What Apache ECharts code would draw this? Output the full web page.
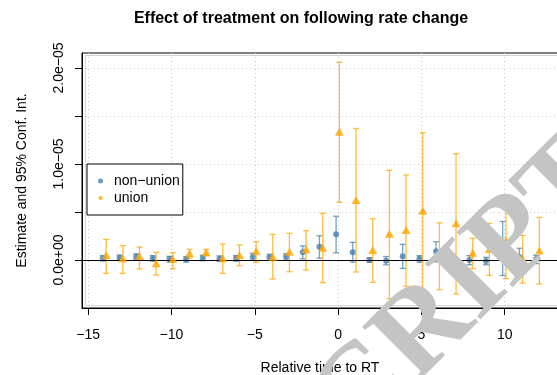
<!DOCTYPE html>
<html><head><meta charset="utf-8">
<script src="https://cdn.jsdelivr.net/npm/echarts@6/dist/echarts.min.js"></script>
<style>html,body{margin:0;padding:0;background:#fff}#c{width:557px;height:375px}</style>
</head><body><div id="c"></div>
<script>
// values in units of 1e-6
const times = [-14,-13,-12,-11,-10,-9,-8,-7,-6,-5,-4,-3,-2,-1,0,1,2,3,4,5,6,7,8,9,10,11,12];
const nonUnionEst = [0.18,0.24,0.35,0.17,0.10,0.07,0.21,0.14,0.17,0.35,0.28,0.33,0.80,1.39,2.67,0.80,0.00,-0.08,0.40,0.12,0.90,0.10,0.00,-0.10,1.22,0.32,0.07];
const nonUnionLo  = [-0.10,-0.05,0.05,-0.12,-0.20,-0.22,-0.08,-0.15,-0.13,0.00,-0.05,0.00,0.13,0.19,0.76,-0.22,-0.24,-0.50,-0.88,-0.24,-0.19,-0.42,-0.49,-0.49,-1.62,-0.63,-0.38];
const nonUnionHi  = [0.46,0.52,0.65,0.45,0.38,0.36,0.50,0.43,0.46,0.70,0.60,0.65,1.47,2.52,4.56,1.84,0.24,0.36,1.63,0.45,1.90,0.59,0.45,0.28,4.01,1.22,0.49];
const unionEst = [0.52,0.17,0.42,-0.35,0.10,0.69,0.80,0.17,0.52,0.94,0.35,0.87,1.11,1.28,13.37,6.25,1.04,2.73,3.12,5.14,0.45,3.82,0.76,1.15,2.01,0.12,1.00];
const unionLo  = [-1.39,-1.39,-0.94,-1.56,-0.90,0.17,0.45,-1.39,-0.59,-0.24,-1.98,-1.22,-1.04,-2.36,6.00,-1.25,-2.33,-4.04,-2.74,-3.16,-3.09,-3.54,-0.90,-1.60,-1.94,-2.40,-2.50];
const unionHi  = [2.15,1.49,1.35,0.80,0.76,1.11,1.11,1.67,1.56,1.91,2.67,2.78,3.06,4.86,20.60,13.70,4.30,9.34,8.85,13.26,3.87,11.08,2.26,3.82,5.83,2.57,4.44];
const seriesNames = ['non\u2212union','union'];
const xTicks = [-15,-10,-5,0,5,10];
const yTicks = [0,5,10,15,20];
const yLabelValues = [0,10,20];
const yLabelTexts = ['0.0e+00','1.0e\u221205','2.0e\u221205'];

const blueOffset = -0.12, orangeOffset = 0.08;
const FONT = 'Liberation Sans, Arial, sans-serif';
const BLUE = '#4682B4', ORANGE = '#FFA500';

function errRender(color){
  return function(params, api){
    const x = api.value(0), lo = api.value(1), hi = api.value(2);
    const a = api.coord([x, lo]), b = api.coord([x, hi]);
    const hw = 3;
    const st = {stroke: color, lineWidth: 1.3, opacity: 0.75};
    return {type:'group', children:[
      {type:'line', shape:{x1:a[0],y1:a[1],x2:b[0],y2:b[1]}, style:st},
      {type:'line', shape:{x1:a[0]-hw,y1:a[1],x2:a[0]+hw,y2:a[1]}, style:st},
      {type:'line', shape:{x1:b[0]-hw,y1:b[1],x2:b[0]+hw,y2:b[1]}, style:st}
    ]};
  };
}
const blueErr = times.map((t,i)=>[t+blueOffset, nonUnionLo[i], nonUnionHi[i]]);
const orangeErr = times.map((t,i)=>[t+orangeOffset, unionLo[i], unionHi[i]]);
const bluePts = times.map((t,i)=>[t+blueOffset, nonUnionEst[i]]);
const orangePts = times.map((t,i)=>[t+orangeOffset, unionEst[i]]);

const chart = echarts.init(document.getElementById('c'), null, {renderer:'canvas'});
chart.setOption({
  backgroundColor:'#fff',
  animation:false,
  grid:{left:82, right:-1, top:53, bottom:67, show:true, borderColor:'#000', borderWidth:1, backgroundColor:'transparent',
    containLabel:false, outerBoundsMode:'none'},
  xAxis:{type:'value', min:-15.37, max:13.2,
    name:'Relative time to RT', nameLocation:'middle', nameGap:53,
    nameTextStyle:{fontFamily:FONT, fontSize:14, color:'#000'},
    axisLine:{show:true, onZero:false, lineStyle:{color:'#000', width:1}},
    axisTick:{show:true, length:7, lineStyle:{color:'#000'}, customValues:xTicks},
    axisLabel:{fontFamily:FONT, fontSize:14, color:'#000', margin:20, customValues:xTicks,
      formatter:v=>String(v).replace('-','\u2212')},
    splitLine:{show:true, lineStyle:{color:'#c8c8c8', type:[1,3], width:1}}
  },
  yAxis:{type:'value', min:-5, max:21.56,
    name:'Estimate and 95% Conf. Int.', nameLocation:'middle', nameGap:53,
    nameTextStyle:{fontFamily:FONT, fontSize:14, color:'#000'},
    axisLine:{show:true, onZero:false, lineStyle:{color:'#000', width:1}},
    axisTick:{show:true, length:7, lineStyle:{color:'#000'}, customValues:yTicks},
    axisLabel:{fontFamily:FONT, fontSize:14, color:'#000', margin:16, rotate:90, customValues:yLabelValues,
      formatter:v=>{const k=yLabelValues.indexOf(v); return k>=0?yLabelTexts[k]:'';}},
    splitLine:{show:true, lineStyle:{color:'#c8c8c8', type:[1,3], width:1}}
  },
  legend:{orient:'vertical', left:87, top:164, padding:[10,3,10,11], itemGap:3, itemWidth:5, itemHeight:5,
    borderColor:'#000', borderWidth:1, borderRadius:0, backgroundColor:'#fff',
    textStyle:{fontFamily:FONT, fontSize:14, color:'#000', padding:[0,0,0,6]},
    data:[{name:seriesNames[0], icon:'circle'},{name:seriesNames[1], icon:'diamond'}]},
  graphic:[
    {type:'text', x:301, y:19, style:{text:'Effect of treatment on following rate change', font:'bold 16px '+FONT, fill:'#000', textAlign:'center', textVerticalAlign:'middle'}},
    {type:'rect', shape:{x:85.3, y:55.5, width:520, height:250.2}, style:{fill:'none', stroke:'#d3d3d3', lineWidth:1}, z:1},
    {type:'text', x:597, y:159, rotation:Math.PI/4, z:100, style:{text:'ACCEPTED MANUSCRIPT', font:'bold 120px Liberation Serif, serif', fill:'#c4c4c4', textAlign:'right', textVerticalAlign:'middle', blend:'multiply'}}
  ],
  series:[
    {type:'custom', name:'nuErr', renderItem:errRender(BLUE), data:blueErr, encode:{x:0, y:[1,2]}, z:2},
    {type:'scatter', name:seriesNames[0], data:bluePts, symbol:'circle', symbolSize:6, itemStyle:{color:BLUE}, z:3,
      markLine:{silent:true, symbol:'none', label:{show:false}, lineStyle:{color:'#000', type:'solid', width:1}, data:[{yAxis:0}]}},
    {type:'custom', name:'uErr', renderItem:errRender(ORANGE), data:orangeErr, encode:{x:0, y:[1,2]}, z:4},
    {type:'scatter', name:seriesNames[1], data:orangePts, symbol:'triangle', symbolSize:[9,8], itemStyle:{color:ORANGE}, z:5}
  ]
});
</script></body></html>
